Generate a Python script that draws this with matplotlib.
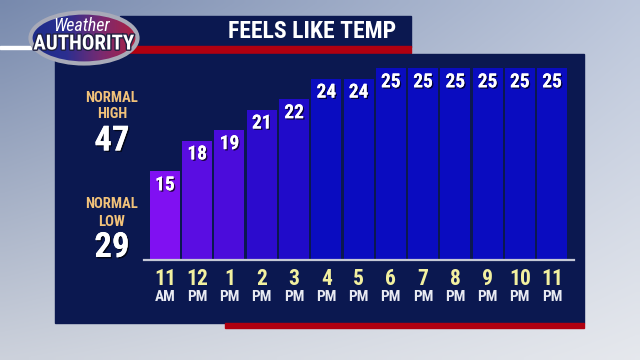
import matplotlib
matplotlib.use("Agg")
import matplotlib.pyplot as plt
import matplotlib.patheffects as pe
from matplotlib.patches import Rectangle, Ellipse
from matplotlib.colors import LinearSegmentedColormap, Normalize
import numpy as np

hours = ["11", "12", "1", "2", "3", "4", "5", "6", "7", "8", "9", "10", "11"]
ampm = ["AM", "PM", "PM", "PM", "PM", "PM", "PM", "PM", "PM", "PM", "PM", "PM", "PM"]
feels_like = [15, 18, 19, 21, 22, 24, 24, 25, 25, 25, 25, 25, 25]
normal_high = 47
normal_low = 29

FONT = ["Roboto Condensed", "Barlow Semi Condensed", "DejaVu Sans"]
NAVY = "#0b1850"
RED = "#b00010"
shadow = [pe.withSimplePatchShadow(offset=(1, -1), shadow_rgbFace="black", alpha=0.7)]

fig = plt.figure(figsize=(6.4, 3.6), dpi=100)

# background "sky" and the panels, drawn in pixel coordinates
bg = fig.add_axes([0, 0, 1, 1])
bg.set_xlim(0, 640)
bg.set_ylim(360, 0)
bg.axis("off")

top = np.array([[0.47, 0.54, 0.68], [0.74, 0.78, 0.86]])
bot = np.array([[0.80, 0.82, 0.86], [0.90, 0.91, 0.93]])
ty = np.linspace(0, 1, 60)[:, None, None]
tx = np.linspace(0, 1, 80)[None, :, None]
left = top[0] * (1 - ty) + bot[0] * ty
right = top[1] * (1 - ty) + bot[1] * ty
sky = left * (1 - tx) + right * tx
bg.imshow(sky, extent=(0, 640, 360, 0), aspect="auto", interpolation="bilinear", zorder=0)

bg.add_patch(Rectangle((0, 46), 40, 3, color="white", zorder=1))
bg.add_patch(Rectangle((120, 16), 291, 31, color=NAVY, zorder=1))
bg.add_patch(Rectangle((120, 46), 291, 7, color=RED, zorder=1))
bg.add_patch(Rectangle((55, 54), 529, 269, color=NAVY, zorder=1))
bg.add_patch(Rectangle((225, 323), 359, 5, color=RED, zorder=1))

# logo
logo = Ellipse((84, 38), 107, 51, facecolor="none", edgecolor="#a8aab8", lw=3, zorder=4)
bg.add_patch(logo)
grad = LinearSegmentedColormap.from_list("logo", ["#1d2b8a", "#2b2f90", "#7a2a70", "#b02040"])
im = bg.imshow(np.linspace(0, 1, 50)[None, :], cmap=grad, extent=(30, 138, 64, 12),
               aspect="auto", zorder=3)
im.set_clip_path(logo)
bg.text(82, 26, "Weather", color="white", fontsize=13, style="italic", family=FONT,
        ha="center", va="center", zorder=5)
bg.text(84, 44, "AUTHORITY", color="white", fontsize=15, weight="bold", family=FONT,
        ha="center", va="center", zorder=5,
        path_effects=[pe.withStroke(linewidth=2, foreground="#202040")])

bg.text(312, 31, "FEELS LIKE TEMP", color="white", fontsize=17, weight="bold",
        family=FONT, ha="center", va="center", zorder=5)

# normals on the left
orange = "#f2c27a"
bg.text(112, 97.5, "NORMAL", color=orange, fontsize=10.5, weight="bold", family=FONT,
        ha="center", va="center", zorder=5)
bg.text(112, 114, "HIGH", color=orange, fontsize=10.5, weight="bold", family=FONT,
        ha="center", va="center", zorder=5)
bg.text(112, 141, str(normal_high), color="white", fontsize=25, weight="bold", family=FONT,
        ha="center", va="center", zorder=5, path_effects=shadow + [pe.Normal()])
bg.text(112, 204.5, "NORMAL", color=orange, fontsize=10.5, weight="bold", family=FONT,
        ha="center", va="center", zorder=5)
bg.text(112, 222, "LOW", color=orange, fontsize=10.5, weight="bold", family=FONT,
        ha="center", va="center", zorder=5)
bg.text(112, 247.5, str(normal_low), color="white", fontsize=25, weight="bold", family=FONT,
        ha="center", va="center", zorder=5, path_effects=shadow + [pe.Normal()])

# the bar chart
ax = fig.add_axes([144 / 640, 100 / 360, 430 / 640, 206 / 360])
ax.patch.set_visible(False)
x = np.arange(len(feels_like))
bar_cmap = LinearSegmentedColormap.from_list(
    "feels", ["#8010f2", "#5a0de2", "#2c0bcd", "#0a0cc0"])
colors = bar_cmap(Normalize(15, 24, clip=True)(feels_like))
ax.bar(x, feels_like, width=0.93, color=colors, zorder=2)
ax.set_xlim(-0.65, 12.68)
ax.set_ylim(6.4, 26.4)

for i, v in enumerate(feels_like):
    ax.annotate(str(v), (i, v), xytext=(0, -10), textcoords="offset points",
                ha="center", va="center", color="white", fontsize=14, weight="bold",
                family=FONT, zorder=3, path_effects=shadow + [pe.Normal()])

xt = ax.get_xaxis_transform()
for i in x:
    ax.annotate(hours[i], (i, 0), xycoords=xt, xytext=(0, -13.5), textcoords="offset points",
                ha="center", va="center", color="#f2f0a0", fontsize=15.5, weight="bold",
                family=FONT, annotation_clip=False)
    ax.annotate(ampm[i], (i, 0), xycoords=xt, xytext=(0, -26.5), textcoords="offset points",
                ha="center", va="center", color="#e8eaf2", fontsize=11, weight="bold",
                family=FONT, annotation_clip=False)

for s in ["top", "right", "left"]:
    ax.spines[s].set_visible(False)
ax.spines["bottom"].set_color("#c4c8d6")
ax.spines["bottom"].set_linewidth(1.6)
ax.spines["bottom"].set_zorder(4)
ax.set_xticks([])
ax.set_yticks([])

fig.savefig("out.png", dpi=100)
